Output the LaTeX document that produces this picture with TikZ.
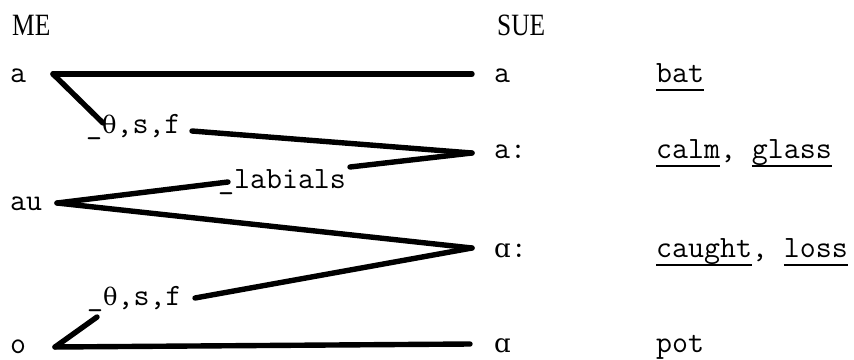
\documentclass[tikz,border=0pt]{standalone}
\usepackage{fontspec}
\newfontfamily\twfont{Latin Modern Mono}
\newfontfamily\symfont{DejaVu Serif}
\newfontfamily\headfont{Liberation Serif}
% underline at a fixed depth below the baseline
\newcommand\ulw[1]{\setbox0\hbox{#1}\rlap{\rule[-9pt]{\wd0}{1.6pt}}\box0}
% letters missing from the typewriter face
\newcommand\thet{{\symfont\fontsize{24}{30}\selectfont θ}}
\newcommand\scripta{{\symfont\fontsize{26}{30}\selectfont ɑ}}
\tikzset{
  tw/.style={inner sep=0pt, anchor=base west, font=\twfont\fontsize{31}{34}\selectfont},
  head/.style={inner sep=0pt, anchor=base west, font=\headfont\fontsize{31}{34}\selectfont, xscale=0.82},
  link/.style={line width=5.4pt, line cap=round, line join=round}
}
\begin{document}
\begin{tikzpicture}[x=1pt,y=-1pt]
\useasboundingbox (0,0) rectangle (854,359);
% column heads
\node[head] (me) at (12,35) {ME};
\node[head] (sue) at (497,35) {SUE};
% Middle English vowels
\node[tw] (mea) at (10,82) {a};
\node[tw] (meau) at (10,210) {au};
\node[tw] (meo) at (10,353) {o};
% Southern United States vowels
\node[tw] (sa) at (494,82) {a};
\node[tw] (saa) at (494,158) {a:};
\node[tw] (sal) at (494,257) {\scripta:};
\node[tw] (sas) at (494,352) {\scripta};
% example words
\node[tw] (w1) at (656,82) {\ulw{bat}};
\node[tw] (w2) at (656,158) {\ulw{calm}, \ulw{glass}};
\node[tw] (w3) at (656,257) {\ulw{caught}, \ulw{loss}};
\node[tw] (w4) at (656,352) {pot};
% conditioning environments
\node[tw] (c1) at (86,133) {\_\thet,s,f};
\node[tw] (c2) at (218,188) {\_labials};
\node[tw] (c3) at (87,305) {\_\thet,s,f};
% line end points
\coordinate (pa) at (53,74);
\coordinate (pau) at (57,203);
\coordinate (po) at (55,347);
\coordinate (qa) at (472,74);
\coordinate (qaa) at (472,153);
\coordinate (qal) at (472,248);
\coordinate (qas) at (470,344);
\coordinate (c1in) at (103,123);
\coordinate (c1out) at (192,131);
\coordinate (c2in) at (228,182);
\coordinate (c2out) at (350,167);
\coordinate (c3in) at (97,317);
\coordinate (c3out) at (195,298);
% connectors
\draw[link] (pa) -- (qa);
\draw[link] (pa) -- (c1in);
\draw[link] (c1out) -- (qaa);
\draw[link] (pau) -- (c2in);
\draw[link] (c2out) -- (qaa);
\draw[link] (pau) -- (qal);
\draw[link] (c3out) -- (qal);
\draw[link] (po) -- (c3in);
\draw[link] (po) -- (qas);
\end{tikzpicture}
\end{document}
